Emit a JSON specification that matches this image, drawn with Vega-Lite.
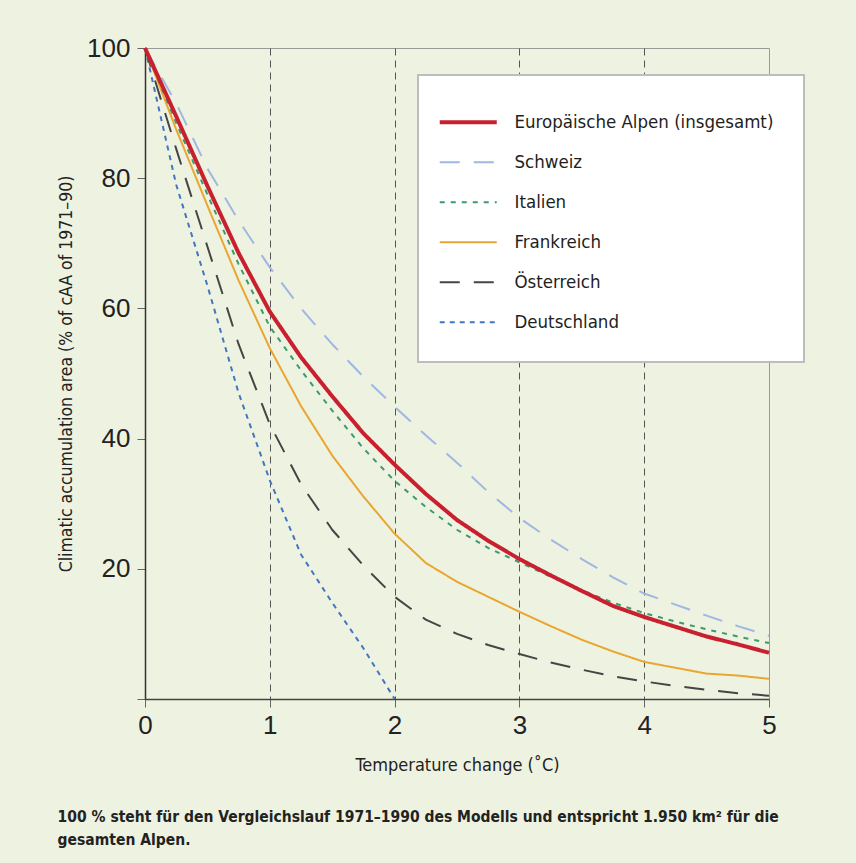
{
  "$schema": "https://vega.github.io/schema/vega-lite/v6.json",
  "width": 624,
  "height": 651,
  "autosize": {"type": "none"},
  "padding": {"left": 145, "top": 48, "right": 87, "bottom": 164},
  "background": "#eef2e1",
  "config": {
    "view": {"stroke": "#9a9a9a", "strokeWidth": 1},
    "legend": {
      "orient": "none",
      "legendX": 273,
      "legendY": 27,
      "fillColor": "#ffffff",
      "strokeColor": "#bdbdbd",
      "padding": 30,
      "symbolType": "stroke",
      "symbolSize": 3249,
      "symbolStrokeWidth": 2,
      "symbolOffset": 11,
      "labelFont": "DejaVu Sans Condensed, Roboto, sans-serif",
      "labelFontSize": 18.5,
      "labelColor": "#1e1e1e",
      "labelOffset": 37,
      "labelLimit": 400,
      "rowPadding": 21,
      "titleFontSize": 4,
      "titlePadding": 4
    }
  },
  "title": {
    "text": ["100 % steht für den Vergleichslauf 1971–1990  des Modells und entspricht 1.950 km² für die", "gesamten Alpen."],
    "orient": "bottom",
    "anchor": "start",
    "frame": "bounds",
    "font": "DejaVu Sans Condensed, Roboto, sans-serif",
    "fontSize": 15.5,
    "fontWeight": "bold",
    "color": "#222222",
    "lineHeight": 23,
    "offset": 36
  },
  "data": {
    "values": [
      {"s": "Deutschland", "t": 0, "v": 100},
      {"s": "Deutschland", "t": 0.25, "v": 79},
      {"s": "Deutschland", "t": 0.5, "v": 63.5},
      {"s": "Deutschland", "t": 0.75, "v": 47},
      {"s": "Deutschland", "t": 1, "v": 33.6},
      {"s": "Deutschland", "t": 1.25, "v": 22.2},
      {"s": "Deutschland", "t": 1.5, "v": 14.8},
      {"s": "Deutschland", "t": 1.75, "v": 7.8},
      {"s": "Deutschland", "t": 2, "v": 0},
      {"s": "Österreich", "t": 0, "v": 100},
      {"s": "Österreich", "t": 0.25, "v": 84.5},
      {"s": "Österreich", "t": 0.5, "v": 69.5},
      {"s": "Österreich", "t": 0.75, "v": 54.5},
      {"s": "Österreich", "t": 1, "v": 42.2},
      {"s": "Österreich", "t": 1.25, "v": 33},
      {"s": "Österreich", "t": 1.5, "v": 26},
      {"s": "Österreich", "t": 1.75, "v": 20.5},
      {"s": "Österreich", "t": 2, "v": 15.7},
      {"s": "Österreich", "t": 2.25, "v": 12.2},
      {"s": "Österreich", "t": 2.5, "v": 10},
      {"s": "Österreich", "t": 2.75, "v": 8.3},
      {"s": "Österreich", "t": 3, "v": 6.9},
      {"s": "Österreich", "t": 3.25, "v": 5.6},
      {"s": "Österreich", "t": 3.5, "v": 4.5},
      {"s": "Österreich", "t": 3.75, "v": 3.5},
      {"s": "Österreich", "t": 4, "v": 2.7},
      {"s": "Österreich", "t": 4.25, "v": 2},
      {"s": "Österreich", "t": 4.5, "v": 1.4},
      {"s": "Österreich", "t": 4.75, "v": 0.9},
      {"s": "Österreich", "t": 5, "v": 0.5},
      {"s": "Frankreich", "t": 0, "v": 100},
      {"s": "Frankreich", "t": 0.25, "v": 87.5},
      {"s": "Frankreich", "t": 0.5, "v": 75.8},
      {"s": "Frankreich", "t": 0.75, "v": 64.3},
      {"s": "Frankreich", "t": 1, "v": 53.9},
      {"s": "Frankreich", "t": 1.25, "v": 45},
      {"s": "Frankreich", "t": 1.5, "v": 37.4},
      {"s": "Frankreich", "t": 1.75, "v": 31.1},
      {"s": "Frankreich", "t": 2, "v": 25.4},
      {"s": "Frankreich", "t": 2.25, "v": 20.9},
      {"s": "Frankreich", "t": 2.5, "v": 18},
      {"s": "Frankreich", "t": 2.75, "v": 15.7},
      {"s": "Frankreich", "t": 3, "v": 13.4},
      {"s": "Frankreich", "t": 3.25, "v": 11.2},
      {"s": "Frankreich", "t": 3.5, "v": 9.1},
      {"s": "Frankreich", "t": 3.75, "v": 7.3},
      {"s": "Frankreich", "t": 4, "v": 5.7},
      {"s": "Frankreich", "t": 4.25, "v": 4.8},
      {"s": "Frankreich", "t": 4.5, "v": 3.9},
      {"s": "Frankreich", "t": 4.75, "v": 3.6},
      {"s": "Frankreich", "t": 5, "v": 3.1},
      {"s": "Italien", "t": 0, "v": 100},
      {"s": "Italien", "t": 0.25, "v": 88.5},
      {"s": "Italien", "t": 0.5, "v": 77.5},
      {"s": "Italien", "t": 0.75, "v": 66.8},
      {"s": "Italien", "t": 1, "v": 57.2},
      {"s": "Italien", "t": 1.25, "v": 50.5},
      {"s": "Italien", "t": 1.5, "v": 44.3},
      {"s": "Italien", "t": 1.75, "v": 38.5},
      {"s": "Italien", "t": 2, "v": 33.5},
      {"s": "Italien", "t": 2.25, "v": 29.5},
      {"s": "Italien", "t": 2.5, "v": 26},
      {"s": "Italien", "t": 2.75, "v": 23.2},
      {"s": "Italien", "t": 3, "v": 21},
      {"s": "Italien", "t": 3.25, "v": 18.8},
      {"s": "Italien", "t": 3.5, "v": 16.7},
      {"s": "Italien", "t": 3.75, "v": 14.8},
      {"s": "Italien", "t": 4, "v": 13.2},
      {"s": "Italien", "t": 4.25, "v": 11.9},
      {"s": "Italien", "t": 4.5, "v": 10.7},
      {"s": "Italien", "t": 4.75, "v": 9.6},
      {"s": "Italien", "t": 5, "v": 8.6},
      {"s": "Schweiz", "t": 0, "v": 100},
      {"s": "Schweiz", "t": 0.25, "v": 91.5},
      {"s": "Schweiz", "t": 0.5, "v": 81.5},
      {"s": "Schweiz", "t": 0.75, "v": 73.5},
      {"s": "Schweiz", "t": 1, "v": 66.3},
      {"s": "Schweiz", "t": 1.25, "v": 60},
      {"s": "Schweiz", "t": 1.5, "v": 54.5},
      {"s": "Schweiz", "t": 1.75, "v": 49.5},
      {"s": "Schweiz", "t": 2, "v": 44.9},
      {"s": "Schweiz", "t": 2.25, "v": 40.5},
      {"s": "Schweiz", "t": 2.5, "v": 36.3},
      {"s": "Schweiz", "t": 2.75, "v": 31.8},
      {"s": "Schweiz", "t": 3, "v": 27.8},
      {"s": "Schweiz", "t": 3.25, "v": 24.5},
      {"s": "Schweiz", "t": 3.5, "v": 21.5},
      {"s": "Schweiz", "t": 3.75, "v": 18.7},
      {"s": "Schweiz", "t": 4, "v": 16.2},
      {"s": "Schweiz", "t": 4.25, "v": 14.5},
      {"s": "Schweiz", "t": 4.5, "v": 12.8},
      {"s": "Schweiz", "t": 4.75, "v": 11.2},
      {"s": "Schweiz", "t": 5, "v": 9.7},
      {"s": "Europäische Alpen (insgesamt)", "t": 0, "v": 100},
      {"s": "Europäische Alpen (insgesamt)", "t": 0.25, "v": 89.5},
      {"s": "Europäische Alpen (insgesamt)", "t": 0.5, "v": 78.8},
      {"s": "Europäische Alpen (insgesamt)", "t": 0.75, "v": 68.5},
      {"s": "Europäische Alpen (insgesamt)", "t": 1, "v": 59.5},
      {"s": "Europäische Alpen (insgesamt)", "t": 1.25, "v": 52.5},
      {"s": "Europäische Alpen (insgesamt)", "t": 1.5, "v": 46.5},
      {"s": "Europäische Alpen (insgesamt)", "t": 1.75, "v": 40.8},
      {"s": "Europäische Alpen (insgesamt)", "t": 2, "v": 36},
      {"s": "Europäische Alpen (insgesamt)", "t": 2.25, "v": 31.5},
      {"s": "Europäische Alpen (insgesamt)", "t": 2.5, "v": 27.5},
      {"s": "Europäische Alpen (insgesamt)", "t": 2.75, "v": 24.3},
      {"s": "Europäische Alpen (insgesamt)", "t": 3, "v": 21.5},
      {"s": "Europäische Alpen (insgesamt)", "t": 3.25, "v": 19},
      {"s": "Europäische Alpen (insgesamt)", "t": 3.5, "v": 16.6},
      {"s": "Europäische Alpen (insgesamt)", "t": 3.75, "v": 14.3},
      {"s": "Europäische Alpen (insgesamt)", "t": 4, "v": 12.6},
      {"s": "Europäische Alpen (insgesamt)", "t": 4.25, "v": 11.1},
      {"s": "Europäische Alpen (insgesamt)", "t": 4.5, "v": 9.6},
      {"s": "Europäische Alpen (insgesamt)", "t": 4.75, "v": 8.4},
      {"s": "Europäische Alpen (insgesamt)", "t": 5, "v": 7.1}
    ]
  },
  "mark": {"type": "line", "strokeCap": "butt", "strokeJoin": "round"},
  "encoding": {
    "x": {
      "field": "t",
      "type": "quantitative",
      "scale": {"domain": [0, 5], "nice": false},
      "axis": {
        "title": "Temperature change (˚C)",
        "values": [0, 1, 2, 3, 4, 5],
        "format": "d",
        "grid": true,
        "gridColor": "#555555",
        "gridDash": [7, 5],
        "gridWidth": 1,
        "gridOpacity": {"condition": {"test": "datum.value == 0 || datum.value == 5", "value": 0}, "value": 1},
        "domainColor": "#444444",
        "domainWidth": 1.5,
        "tickColor": "#666666",
        "tickSize": 8,
        "labelFont": "Liberation Sans",
        "labelFontSize": 26,
        "labelColor": "#222222",
        "labelPadding": 5,
        "labelFlush": false,
        "titleFont": "DejaVu Sans Condensed, Roboto, sans-serif",
        "titleFontSize": 18,
        "titleFontWeight": "normal",
        "titleColor": "#222222",
        "titlePadding": 18
      }
    },
    "y": {
      "field": "v",
      "type": "quantitative",
      "scale": {"domain": [0, 100], "nice": false},
      "axis": {
        "title": "Climatic accumulation area (% of cAA of 1971–90)",
        "values": [0, 20, 40, 60, 80, 100],
        "labelExpr": "datum.value == 0 ? '' : datum.label",
        "grid": false,
        "domainColor": "#333333",
        "domainWidth": 1.5,
        "tickColor": "#666666",
        "tickSize": 8,
        "labelFont": "Liberation Sans",
        "labelFontSize": 26,
        "labelColor": "#222222",
        "labelPadding": 7,
        "labelFlush": false,
        "titleFont": "DejaVu Sans Condensed, Roboto, sans-serif",
        "titleFontSize": 17.5,
        "titleFontWeight": "normal",
        "titleColor": "#222222",
        "titlePadding": 11
      }
    },
    "color": {
      "field": "s",
      "type": "nominal",
      "scale": {
        "domain": ["Europäische Alpen (insgesamt)", "Schweiz", "Italien", "Frankreich", "Österreich", "Deutschland"],
        "range": ["#c8202f", "#9fb7e2", "#3d9a6b", "#e9a630", "#454545", "#4275c2"]
      },
      "legend": {
        "title": " ",
        "encode": {
          "legend": {"update": {"strokeWidth": {"value": 2}}},
          "symbols": {"update": {"strokeWidth": {"signal": "datum.value === 'Europäische Alpen (insgesamt)' ? 4 : 2"}}}
        }
      }
    },
    "strokeDash": {
      "field": "s",
      "type": "nominal",
      "scale": {
        "domain": ["Europäische Alpen (insgesamt)", "Schweiz", "Italien", "Frankreich", "Österreich", "Deutschland"],
        "range": [[1, 0], [20, 14], [5, 6], [1, 0], [20, 14], [5, 5]]
      },
      "legend": {"title": " "}
    },
    "strokeWidth": {
      "condition": {"test": "datum.s === 'Europäische Alpen (insgesamt)'", "value": 4},
      "value": 2
    }
  }
}
